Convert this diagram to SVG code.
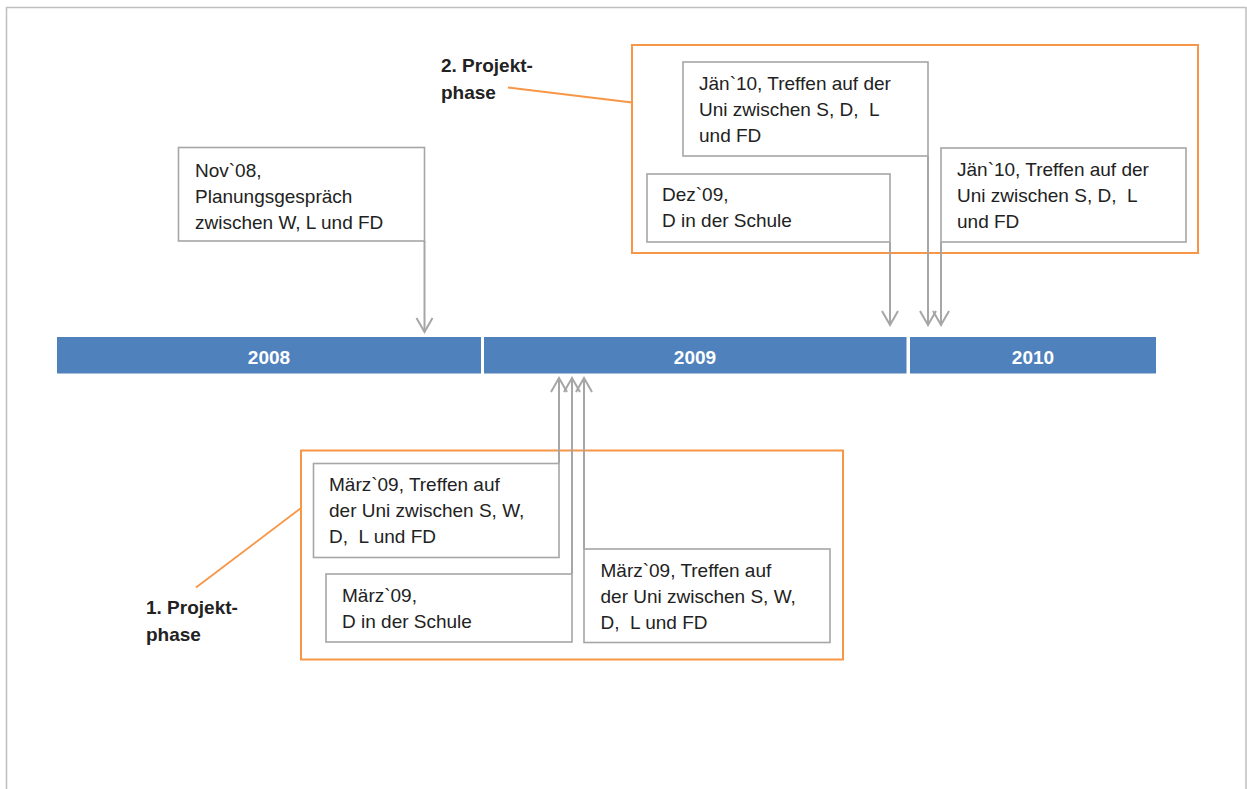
<svg xmlns="http://www.w3.org/2000/svg" width="1247" height="789" viewBox="0 0 1247 789">
  <defs>
    <style>
      .frame { fill: none; stroke: #BFBFBF; stroke-width: 1.5; }
      .phase { fill: none; stroke: #F79646; stroke-width: 2; }
      .lead { fill: none; stroke: #F79646; stroke-width: 1.8; }
      .box { fill: #FFFFFF; stroke: #A6A6A6; stroke-width: 1.6; }
      .conn { fill: none; stroke: #A6A6A6; stroke-width: 2; marker-end: url(#arrow); }
      .bar { fill: #4F81BD; }
      .year { font-family: "Liberation Sans", Arial, sans-serif; font-size: 19px; font-weight: bold; fill: #FFFFFF; text-anchor: middle; }
      .txt { font-family: "Liberation Sans", Arial, sans-serif; font-size: 19px; fill: #222222; white-space: pre; }
      .lbl { font-family: "Liberation Sans", Arial, sans-serif; font-size: 19px; font-weight: bold; fill: #222222; }
    </style>
    <marker id="arrow" markerUnits="userSpaceOnUse" markerWidth="20" markerHeight="20" viewBox="-16 -10 18 20" refX="0" refY="0" orient="auto">
      <path d="M -14 -8 L 0 0 L -14 8" fill="none" stroke="#A6A6A6" stroke-width="2"/>
    </marker>
  </defs>

  <rect width="1247" height="789" fill="#FFFFFF"/>
  <rect class="frame" x="6.5" y="7.5" width="1239.5" height="800"/>

  <!-- timeline -->
  <g id="timeline">
    <g id="y2008">
      <rect class="bar" x="57" y="337" width="424" height="36.5"/>
      <text class="year" x="269" y="364">2008</text>
    </g>
    <g id="y2009">
      <rect class="bar" x="484" y="337" width="422.5" height="36.5"/>
      <text class="year" x="695" y="364">2009</text>
    </g>
    <g id="y2010">
      <rect class="bar" x="910" y="337" width="246" height="36.5"/>
      <text class="year" x="1033" y="364">2010</text>
    </g>
  </g>

  <!-- project phase frames and labels -->
  <g id="phase2">
    <rect class="phase" x="632" y="45" width="566" height="208"/>
    <line class="lead" x1="508" y1="87.5" x2="632" y2="102.5"/>
    <text class="lbl" x="441" y="72">2. Projekt-</text>
    <text class="lbl" x="441" y="99">phase</text>
  </g>
  <g id="phase1">
    <rect class="phase" x="301" y="450.5" width="542" height="209"/>
    <line class="lead" x1="196" y1="587.5" x2="301" y2="508"/>
    <text class="lbl" x="146" y="614">1. Projekt-</text>
    <text class="lbl" x="146" y="641">phase</text>
  </g>

  <!-- connectors -->
  <g id="connectors">
    <line class="conn" x1="424.5" y1="241" x2="424.5" y2="332"/>
    <line class="conn" x1="890" y1="242" x2="890" y2="325"/>
    <line class="conn" x1="928" y1="156" x2="928" y2="325"/>
    <line class="conn" x1="941" y1="242" x2="941" y2="325"/>
    <line class="conn" x1="559" y1="463" x2="559" y2="378"/>
    <line class="conn" x1="572" y1="574" x2="572" y2="378"/>
    <line class="conn" x1="584" y1="549" x2="584" y2="378"/>
  </g>

  <!-- event boxes -->
  <g id="nov08">
    <rect class="box" x="178.5" y="147.5" width="246" height="93.5"/>
    <text class="txt" x="195" y="177">Nov`08,</text>
    <text class="txt" x="195" y="203">Planungsgespräch</text>
    <text class="txt" x="195" y="229">zwischen W, L und FD</text>
  </g>
  <g id="jan10a">
    <rect class="box" x="683" y="62" width="245" height="94"/>
    <text class="txt" x="699" y="90">Jän`10, Treffen auf der</text>
    <text class="txt" x="699" y="116" xml:space="preserve">Uni zwischen S, D,  L</text>
    <text class="txt" x="699" y="142">und FD</text>
  </g>
  <g id="dez09">
    <rect class="box" x="647" y="174" width="243" height="68"/>
    <text class="txt" x="662" y="201">Dez`09,</text>
    <text class="txt" x="662" y="227">D in der Schule</text>
  </g>
  <g id="jan10b">
    <rect class="box" x="941" y="148" width="245" height="94"/>
    <text class="txt" x="957" y="176">Jän`10, Treffen auf der</text>
    <text class="txt" x="957" y="202" xml:space="preserve">Uni zwischen S, D,  L</text>
    <text class="txt" x="957" y="228">und FD</text>
  </g>
  <g id="maerz09a">
    <rect class="box" x="313.5" y="463.5" width="245.5" height="94"/>
    <text class="txt" x="329" y="491">März`09, Treffen auf</text>
    <text class="txt" x="329" y="517">der Uni zwischen S, W,</text>
    <text class="txt" x="329" y="543" xml:space="preserve">D,  L und FD</text>
  </g>
  <g id="maerz09b">
    <rect class="box" x="326" y="574" width="246" height="68"/>
    <text class="txt" x="342" y="602">März`09,</text>
    <text class="txt" x="342" y="628">D in der Schule</text>
  </g>
  <g id="maerz09c">
    <rect class="box" x="584" y="549" width="246" height="93.5"/>
    <text class="txt" x="600.5" y="577">März`09, Treffen auf</text>
    <text class="txt" x="600.5" y="603">der Uni zwischen S, W,</text>
    <text class="txt" x="600.5" y="629" xml:space="preserve">D,  L und FD</text>
  </g>
</svg>
